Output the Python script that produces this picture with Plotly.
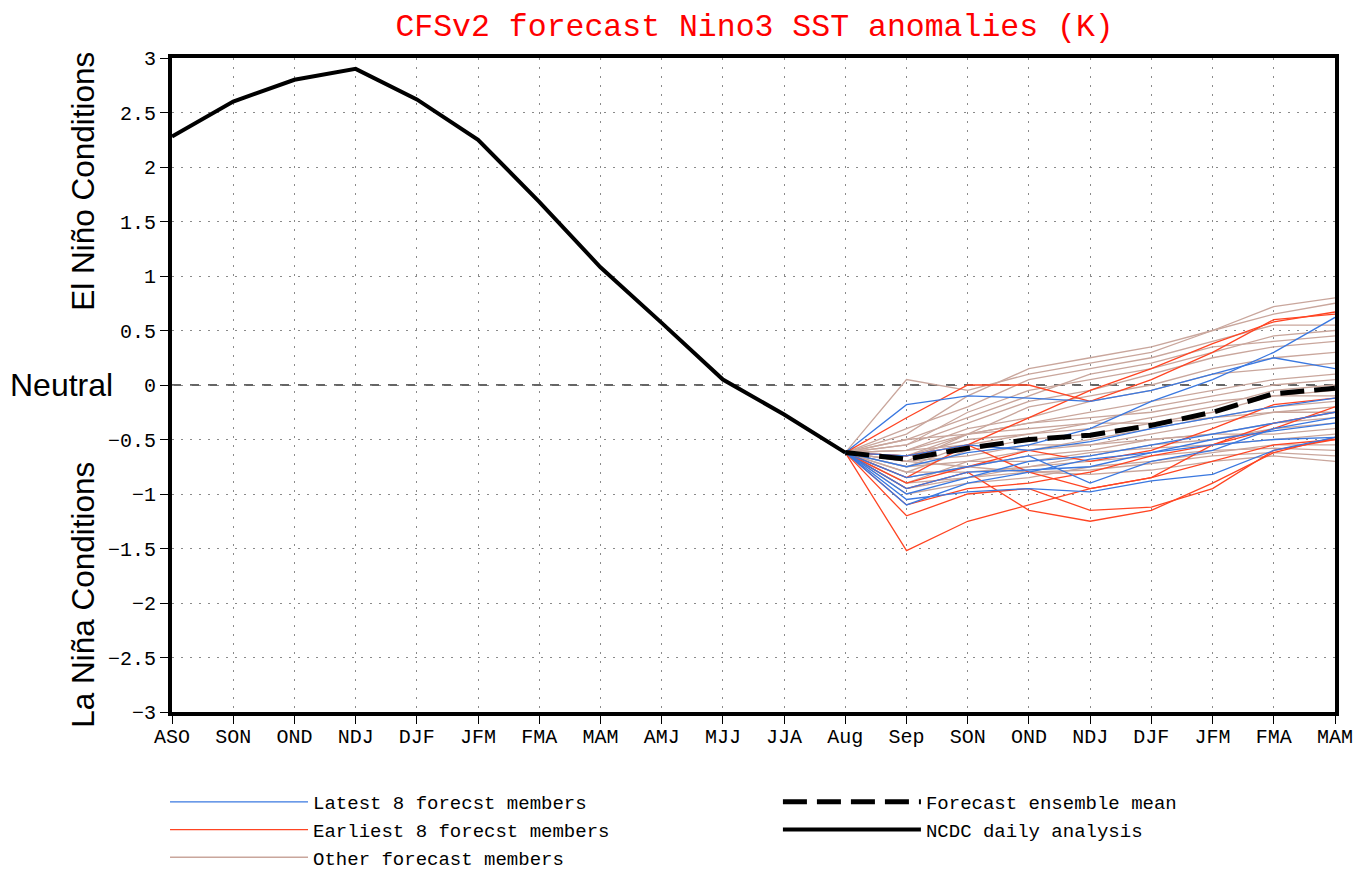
import plotly.graph_objects as go

# ---------------- data ----------------
categories = ["ASO", "SON", "OND", "NDJ", "DJF", "JFM", "FMA", "MAM", "AMJ", "MJJ",
              "JJA", "Aug", "Sep", "SON ", "OND ", "NDJ ", "DJF ", "JFM ", "FMA ", "MAM "]
tick_labels = ["ASO", "SON", "OND", "NDJ", "DJF", "JFM", "FMA", "MAM", "AMJ", "MJJ",
               "JJA", "Aug", "Sep", "SON", "OND", "NDJ", "DJF", "JFM", "FMA", "MAM"]

# NCDC daily analysis (ASO .. Aug)
observed = [2.28, 2.60, 2.80, 2.90, 2.62, 2.25, 1.68, 1.08, 0.57, 0.05, -0.27, -0.62]

# forecast months (Sep .. MAM); members start from the last analysed value (Aug)
ensemble_mean = [-0.68, -0.58, -0.50, -0.46, -0.37, -0.25, -0.08, -0.03]

latest_members = [
    [-0.18, -0.10, -0.12, -0.15, -0.05, 0.10, 0.25, 0.15],
    [-0.75, -0.62, -0.55, -0.40, -0.15, 0.05, 0.30, 0.62],
    [-1.05, -0.98, -0.95, -0.98, -0.88, -0.82, -0.60, -0.48],
    [-1.00, -0.85, -0.70, -0.65, -0.55, -0.45, -0.35, -0.25],
    [-0.95, -0.80, -0.78, -0.75, -0.62, -0.55, -0.50, -0.48],
    [-0.65, -0.55, -0.60, -0.52, -0.40, -0.30, -0.20, -0.12],
    [-1.10, -0.90, -0.80, -0.68, -0.62, -0.50, -0.42, -0.35],
    [-0.85, -0.75, -0.65, -0.90, -0.70, -0.60, -0.40, -0.30],
]

earliest_members = [
    [-1.52, -1.25, -1.10, -0.95, -0.85, -0.70, -0.55, -0.50],
    [-0.30, 0.00, 0.00, -0.15, 0.05, 0.30, 0.60, 0.65],
    [-0.85, -0.55, -0.30, -0.05, 0.15, 0.38, 0.58, 0.67],
    [-1.20, -1.00, -0.95, -1.15, -1.12, -0.95, -0.60, -0.50],
    [-0.95, -0.80, -1.15, -1.25, -1.15, -0.90, -0.62, -0.48],
    [-0.65, -0.55, -0.80, -0.95, -0.85, -0.55, -0.35, -0.25],
    [-1.10, -0.95, -0.90, -0.80, -0.65, -0.55, -0.40, -0.20],
    [-0.90, -0.75, -0.60, -0.70, -0.60, -0.40, -0.18, -0.12],
]

other_members = [
    [0.05, -0.05, 0.10, 0.20, 0.30, 0.50, 0.72, 0.80],
    [-0.45, -0.10, 0.15, 0.25, 0.35, 0.50, 0.65, 0.75],
    [-0.40, -0.20, 0.05, 0.15, 0.25, 0.40, 0.55, 0.55],
    [-0.50, -0.30, -0.10, 0.10, 0.20, 0.35, 0.40, 0.45],
    [-0.55, -0.35, -0.15, -0.05, 0.10, 0.25, 0.35, 0.40],
    [-0.60, -0.40, -0.30, -0.15, -0.05, 0.10, 0.15, 0.20],
    [-0.70, -0.45, -0.35, -0.25, -0.15, -0.05, 0.05, 0.10],
    [-0.75, -0.55, -0.45, -0.35, -0.20, -0.10, 0.00, 0.05],
    [-0.65, -0.50, -0.45, -0.40, -0.30, -0.20, -0.05, 0.00],
    [-0.80, -0.60, -0.50, -0.45, -0.35, -0.25, -0.10, -0.05],
    [-0.90, -0.70, -0.60, -0.50, -0.40, -0.30, -0.20, -0.15],
    [-0.70, -0.65, -0.55, -0.55, -0.45, -0.35, -0.25, -0.20],
    [-0.85, -0.75, -0.65, -0.60, -0.50, -0.45, -0.35, -0.30],
    [-0.95, -0.85, -0.75, -0.65, -0.55, -0.50, -0.40, -0.35],
    [-0.75, -0.70, -0.70, -0.62, -0.58, -0.55, -0.50, -0.45],
    [-0.60, -0.55, -0.60, -0.55, -0.50, -0.45, -0.45, -0.40],
    [-1.00, -0.90, -0.85, -0.75, -0.70, -0.62, -0.55, -0.55],
    [-0.80, -0.80, -0.75, -0.70, -0.65, -0.60, -0.58, -0.60],
    [-0.70, -0.75, -0.80, -0.78, -0.72, -0.65, -0.62, -0.65],
    [-0.90, -0.85, -0.80, -0.82, -0.78, -0.70, -0.65, -0.70],
    [-0.50, -0.45, -0.40, -0.35, -0.35, -0.30, -0.25, -0.25],
    [-0.65, -0.45, -0.35, -0.30, -0.25, -0.15, -0.10, -0.10],
    [-0.55, -0.25, -0.05, 0.05, 0.15, 0.30, 0.45, 0.50],
    [-0.60, -0.45, -0.20, -0.10, 0.00, 0.15, 0.25, 0.30],
]

y_ticks = [-3, -2.5, -2, -1.5, -1, -0.5, 0, 0.5, 1, 1.5, 2, 2.5, 3]

# ---------------- styling ----------------
BLUE = "#3a78e0"
RED = "#ff4422"
BROWN = "#c9a69c"
GFONT = "Liberation Mono, DejaVu Sans Mono, monospace"
AFONT = "Liberation Sans, Arial, sans-serif"

FIG_W, FIG_H = 1353, 867   # page body has an 8px margin

obs_x = categories[:len(observed)]
fc_x = categories[len(observed) - 1:]
start = observed[-1]

fig = go.Figure()

def add_members(members, color, name, rank):
    for i, m in enumerate(members):
        fig.add_trace(go.Scatter(
            x=fc_x, y=[start] + m, mode="lines",
            line=dict(color=color, width=1.3),
            name=name, legendgroup=name, showlegend=(i == 0), legendrank=rank,
            legend="legend", hoverinfo="skip"))

add_members(other_members, BROWN, "Other forecast members", 3)
add_members(earliest_members, RED, "Earliest 8 forecst members", 2)
add_members(latest_members, BLUE, "Latest 8 forecst members", 1)

fig.add_trace(go.Scatter(
    x=fc_x, y=[start] + ensemble_mean, mode="lines",
    line=dict(color="black", width=5, dash="24px,10px"),
    name="Forecast ensemble mean", legend="legend2", legendrank=1))

fig.add_trace(go.Scatter(
    x=obs_x, y=observed, mode="lines",
    line=dict(color="black", width=4),
    name="NCDC daily analysis", legend="legend2", legendrank=2))

# neutral (zero) reference line
fig.add_shape(type="line", xref="paper", x0=0, x1=1, yref="y", y0=0, y1=0,
              line=dict(color="#333333", width=1.5, dash="dash"), layer="below")

legend_common = dict(orientation="v", xanchor="left", yanchor="top",
                     yref="container", traceorder="normal",
                     font=dict(family=GFONT, size=19, color="black"),
                     bgcolor="rgba(0,0,0,0)", itemwidth=138, tracegroupgap=0)

fig.update_layout(
    width=FIG_W, height=FIG_H,
    margin=dict(l=164, r=26, t=50, b=163, autoexpand=False),
    paper_bgcolor="white", plot_bgcolor="white",
    title=dict(text="CFSv2 forecast Nino3 SST anomalies (K)",
               font=dict(family=GFONT, size=31.5, color="#ff0000"),
               x=0.5518, xanchor="center", y=1 - 17 / FIG_H, yanchor="middle"),
    showlegend=True,
    legend=dict(x=-0.006, y=1 - 775 / FIG_H, **legend_common),
    legend2=dict(x=0.521, y=1 - 775 / FIG_H, **legend_common),
    xaxis=dict(
        type="category", categoryorder="array", categoryarray=categories,
        tickmode="array", tickvals=categories, ticktext=tick_labels,
        range=[0, len(categories) - 1], automargin=False,
        showgrid=True, gridcolor="#8a8a8a", gridwidth=1, griddash="2px,7px",
        showline=True, linecolor="black", linewidth=4, mirror=True,
        ticks="outside", ticklen=8, tickcolor="black", tickwidth=1,
        ticklabelstandoff=-5,
        tickfont=dict(family=GFONT, size=20, color="black"),
        zeroline=False),
    yaxis=dict(
        range=[-3, 3], tickmode="array", tickvals=y_ticks, automargin=False,
        ticktext=[("%g" % v).replace("-", "\u2212") for v in y_ticks],
        showgrid=True, gridcolor="#8a8a8a", gridwidth=1, griddash="2px,7px",
        showline=True, linecolor="black", linewidth=4, mirror=True,
        ticks="outside", ticklen=8, tickcolor="black", tickwidth=1,
        tickfont=dict(family=GFONT, size=20, color="black"),
        zeroline=False),
)

fig.add_annotation(text="El Niño Conditions", xref="paper", yref="paper",
                   x=-0.0766, y=0.812, textangle=-90, showarrow=False,
                   xanchor="center", yanchor="middle",
                   font=dict(family=AFONT, size=31.5, color="black"))
fig.add_annotation(text="La Niña Conditions", xref="paper", yref="paper",
                   x=-0.0766, y=0.179, textangle=-90, showarrow=False,
                   xanchor="center", yanchor="middle",
                   font=dict(family=AFONT, size=31.5, color="black"))
fig.add_annotation(text="Neutral", xref="paper", yref="y",
                   x=-0.0951, y=0, showarrow=False,
                   xanchor="center", yanchor="middle",
                   font=dict(family=AFONT, size=32, color="black"))

fig.write_html("out.html")
